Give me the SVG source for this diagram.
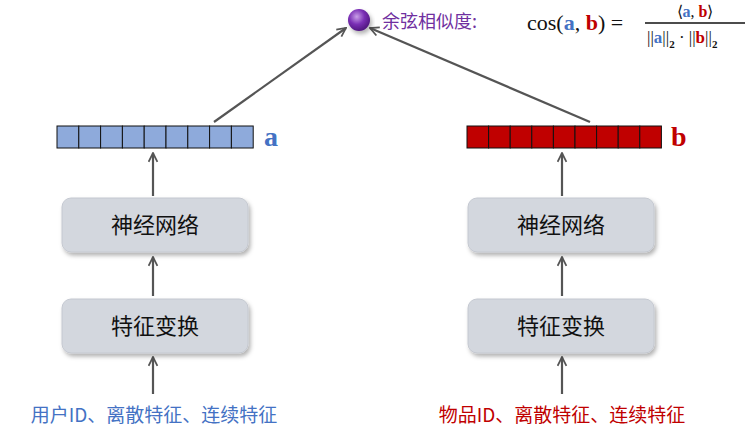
<svg xmlns="http://www.w3.org/2000/svg" width="750" height="436" viewBox="0 0 750 436">
<style>
.box{fill:#d3d7de;stroke:#c4c8d0;stroke-width:1}
.bt{font-family:"Noto Sans CJK SC",sans-serif;font-size:22px;fill:#111;text-anchor:middle}
.ca{fill:#8eaadb;stroke:#111;stroke-width:1}
.cb{fill:#c00000;stroke:#111;stroke-width:1}
.ar{stroke:#555;stroke-width:2.2;fill:none;marker-end:url(#m)}
.f{font-family:"Liberation Serif",serif;fill:#111}
.bl{fill:#4472c4;font-weight:bold}
.rd{fill:#c00000;font-weight:bold}
</style>
<defs>
<marker id="m" viewBox="0 0 10 10" refX="9" refY="5" markerWidth="5" markerHeight="5" orient="auto"><path d="M1,1 L9,5 L1,9" fill="none" stroke="#555" stroke-width="1.6"/></marker>
<radialGradient id="g" cx="0.4" cy="0.35" r="0.7"><stop offset="0" stop-color="#c9a0e8"/><stop offset="0.5" stop-color="#7a2fb5"/><stop offset="1" stop-color="#4a1378"/></radialGradient>
<filter id="s" x="-10%" y="-10%" width="130%" height="140%"><feDropShadow dx="2" dy="3" stdDeviation="2" flood-opacity="0.3"/></filter>
</defs>
<g id="connectors">
<line class="ar" x1="153" y1="394" x2="153" y2="357"/>
<line class="ar" x1="153" y1="296" x2="153" y2="257"/>
<line class="ar" x1="153" y1="196" x2="153" y2="153"/>
<line class="ar" x1="562" y1="394" x2="562" y2="357"/>
<line class="ar" x1="562" y1="296" x2="562" y2="257"/>
<line class="ar" x1="562" y1="196" x2="562" y2="153"/>
<line class="ar" x1="214" y1="122" x2="346" y2="28"/>
<line class="ar" x1="590" y1="122" x2="370" y2="28"/>
</g>
<g id="vec-a">
<rect class="ca" x="57" y="126" width="21.8" height="22"/><rect class="ca" x="78.8" y="126" width="21.8" height="22"/><rect class="ca" x="100.6" y="126" width="21.8" height="22"/><rect class="ca" x="122.4" y="126" width="21.8" height="22"/><rect class="ca" x="144.2" y="126" width="21.8" height="22"/><rect class="ca" x="166" y="126" width="21.8" height="22"/><rect class="ca" x="187.8" y="126" width="21.8" height="22"/><rect class="ca" x="209.6" y="126" width="21.8" height="22"/><rect class="ca" x="231.4" y="126" width="21.8" height="22"/>
<text x="264" y="146" class="f bl" font-size="28">a</text>
</g>
<g id="vec-b">
<rect class="cb" x="467" y="126" width="21.6" height="22"/><rect class="cb" x="488.6" y="126" width="21.6" height="22"/><rect class="cb" x="510.2" y="126" width="21.6" height="22"/><rect class="cb" x="531.8" y="126" width="21.6" height="22"/><rect class="cb" x="553.4" y="126" width="21.6" height="22"/><rect class="cb" x="575" y="126" width="21.6" height="22"/><rect class="cb" x="596.6" y="126" width="21.6" height="22"/><rect class="cb" x="618.2" y="126" width="21.6" height="22"/><rect class="cb" x="639.8" y="126" width="21.6" height="22"/>
<text x="671" y="146" class="f rd" font-size="28">b</text>
</g>
<g id="nn-left"><rect class="box" filter="url(#s)" x="62" y="198" width="186" height="54" rx="9"/><text class="bt" x="155" y="233">神经网络</text></g>
<g id="fe-left"><rect class="box" filter="url(#s)" x="62" y="299" width="186" height="54" rx="9"/><text class="bt" x="155" y="334">特征变换</text></g>
<g id="nn-right"><rect class="box" filter="url(#s)" x="468" y="198" width="186" height="54" rx="9"/><text class="bt" x="561" y="233">神经网络</text></g>
<g id="fe-right"><rect class="box" filter="url(#s)" x="468" y="299" width="186" height="54" rx="9"/><text class="bt" x="561" y="334">特征变换</text></g>
<g id="in-left"><text x="154" y="422" text-anchor="middle" font-family="'Noto Sans CJK SC',sans-serif" font-size="19" fill="#4472c4">用户ID、离散特征、连续特征</text></g>
<g id="in-right"><text x="562" y="422" text-anchor="middle" font-family="'Noto Sans CJK SC',sans-serif" font-size="19" fill="#c00000">物品ID、离散特征、连续特征</text></g>
<g id="cosine">
<circle cx="359" cy="20" r="11" fill="url(#g)" filter="url(#s)"/>
<text x="382" y="28" font-family="'Noto Sans CJK SC',sans-serif" font-size="18" fill="#7030a0">余弦相似度:</text>
<text x="527" y="30" class="f" font-size="22">cos(<tspan class="bl">a</tspan>, <tspan class="rd">b</tspan>) =</text>
<text x="695" y="17" class="f" font-size="16" text-anchor="middle">⟨<tspan class="bl">a</tspan>, <tspan class="rd">b</tspan>⟩</text>
<line x1="645" y1="23" x2="745" y2="23" stroke="#111" stroke-width="1.3"/>
<text x="647" y="43" class="f" font-size="17">||<tspan class="bl">a</tspan>||<tspan font-size="11" dy="5" font-weight="bold">2</tspan><tspan dy="-5"> · ||</tspan><tspan class="rd">b</tspan>||<tspan font-size="11" dy="5" font-weight="bold">2</tspan></text>
</g>
</svg>
